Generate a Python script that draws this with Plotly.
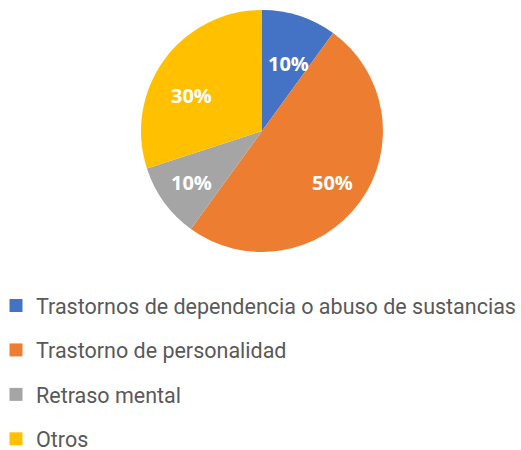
import math
import plotly.graph_objects as go

categories = ["Trastornos de dependencia o abuso de sustancias",
              "Trastorno de personalidad",
              "Retraso mental",
              "Otros"]
values = [10, 50, 10, 30]
colors = ["#4472C4", "#ED7D31", "#A5A5A5", "#FFC000"]

W, H = 521, 450
pie_l, pie_r, pie_t, pie_b = 141, 383, 10, 252

fig = go.Figure()
fig.add_trace(go.Pie(
    labels=categories, values=values, sort=False, direction="clockwise",
    rotation=0, marker=dict(colors=colors, line=dict(width=0)),
    textinfo="none",
    domain=dict(x=[pie_l/W, pie_r/W], y=[1-pie_b/H, 1-pie_t/H]),
    showlegend=False, hoverinfo="label+percent",
))

# percentage labels placed at each slice's mid-angle
cx, cy = (pie_l + pie_r) / 2, (pie_t + pie_b) / 2
R = (pie_r - pie_l) / 2
total = sum(values)
cum = 0
for v in values:
    mid = (cum + v / 2) / total * 2 * math.pi
    cum += v
    rr = 0.72 * R
    px = cx + rr * math.sin(mid)
    py = cy - rr * math.cos(mid)
    fig.add_annotation(
        x=px / W, y=1 - py / H, xref="paper", yref="paper",
        text=f"{round(v / total * 100)}%", showarrow=False,
        font=dict(family="Open Sans", size=20, color="white", weight="bold"),
    )

for i, (c, col) in enumerate(zip(categories, colors)):
    fig.add_trace(go.Scatter(
        x=[None], y=[None], mode="markers", name=c, legendgroup=f"g{i}",
        marker=dict(symbol="square", size=13, color=col),
        showlegend=True,
    ))

fig.update_layout(
    width=W, height=H, margin=dict(l=0, r=0, t=0, b=0, autoexpand=False),
    paper_bgcolor="white", plot_bgcolor="white",
    xaxis=dict(visible=False), yaxis=dict(visible=False),
    legend=dict(x=-4/W, xanchor="left", y=1-285/H, yanchor="top",
                font=dict(family="Roboto", size=21.5, color="#595959"),
                tracegroupgap=13.5, itemsizing="trace", bgcolor="rgba(0,0,0,0)"),
)
fig.write_html("out.html", config={"displayModeBar": False},
               post_script="document.body.style.margin='0';document.body.style.overflow='hidden';")
